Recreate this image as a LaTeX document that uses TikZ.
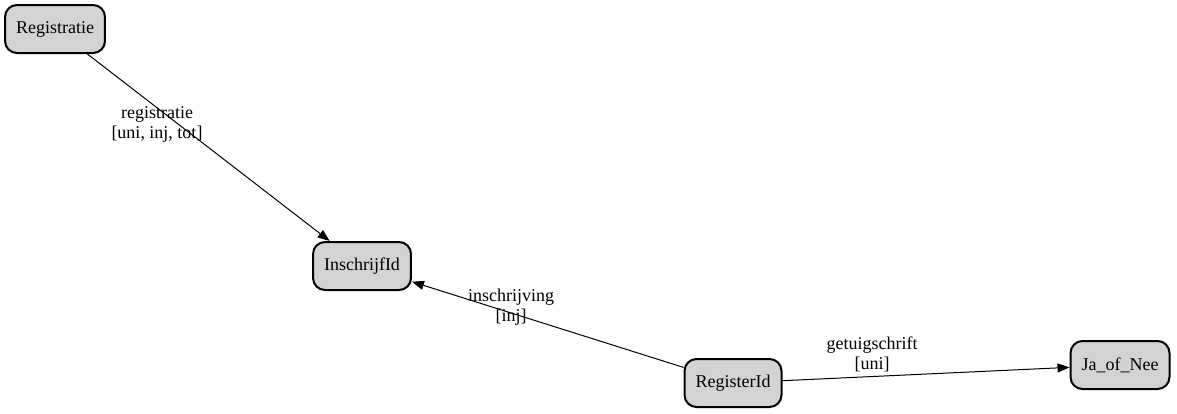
\documentclass[tikz,border=0pt]{standalone}
\usepackage{fontspec}
\setmainfont{Liberation Serif}
\usetikzlibrary{positioning, arrows.meta}
\definecolor{gvGray}{RGB}{211, 211, 211}
\tikzset{
    base/.style={
        font=\fontsize{18}{20}\selectfont,
        align=center
    },
    entity/.style={
        base,
        rectangle,
        rounded corners=12pt,
        draw=black,
        line width=2pt,
        fill=gvGray,
        inner xsep=11pt,
        minimum height=48pt
    },
    flow/.style={
        -{Triangle[length=12pt, width=9pt]},
        line width=1pt,
        color=black
    },
    reltext/.style={
        base,
        inner sep=0pt
    }
}

\begin{document}
\begin{tikzpicture}[x=1pt, y=-1pt]
    \useasboundingbox (0,0) rectangle (1177,413);

    % Entities
    \node[entity] (Registratie) at (55,29) {Registratie};
    \node[entity] (InschrijfId) at (362,266) {InschrijfId};
    \node[entity] (RegisterId) at (733,383) {RegisterId};
    \node[entity] (JaofNee) at (1120,365) {Ja\_of\_Nee};

    % Relations
    \draw[flow] (Registratie) -- (InschrijfId);
    \node[reltext] (registratie) at (157,124) {registratie\\{[uni, inj, tot]}};

    \draw[flow] (RegisterId) -- (InschrijfId);
    \node[reltext] (inschrijving) at (511,307) {inschrijving\\{[inj]}};

    \draw[flow] (RegisterId) -- (JaofNee);
    \node[reltext] (getuigschrift) at (872,354) {getuigschrift\\{[uni]}};

\end{tikzpicture}
\end{document}
